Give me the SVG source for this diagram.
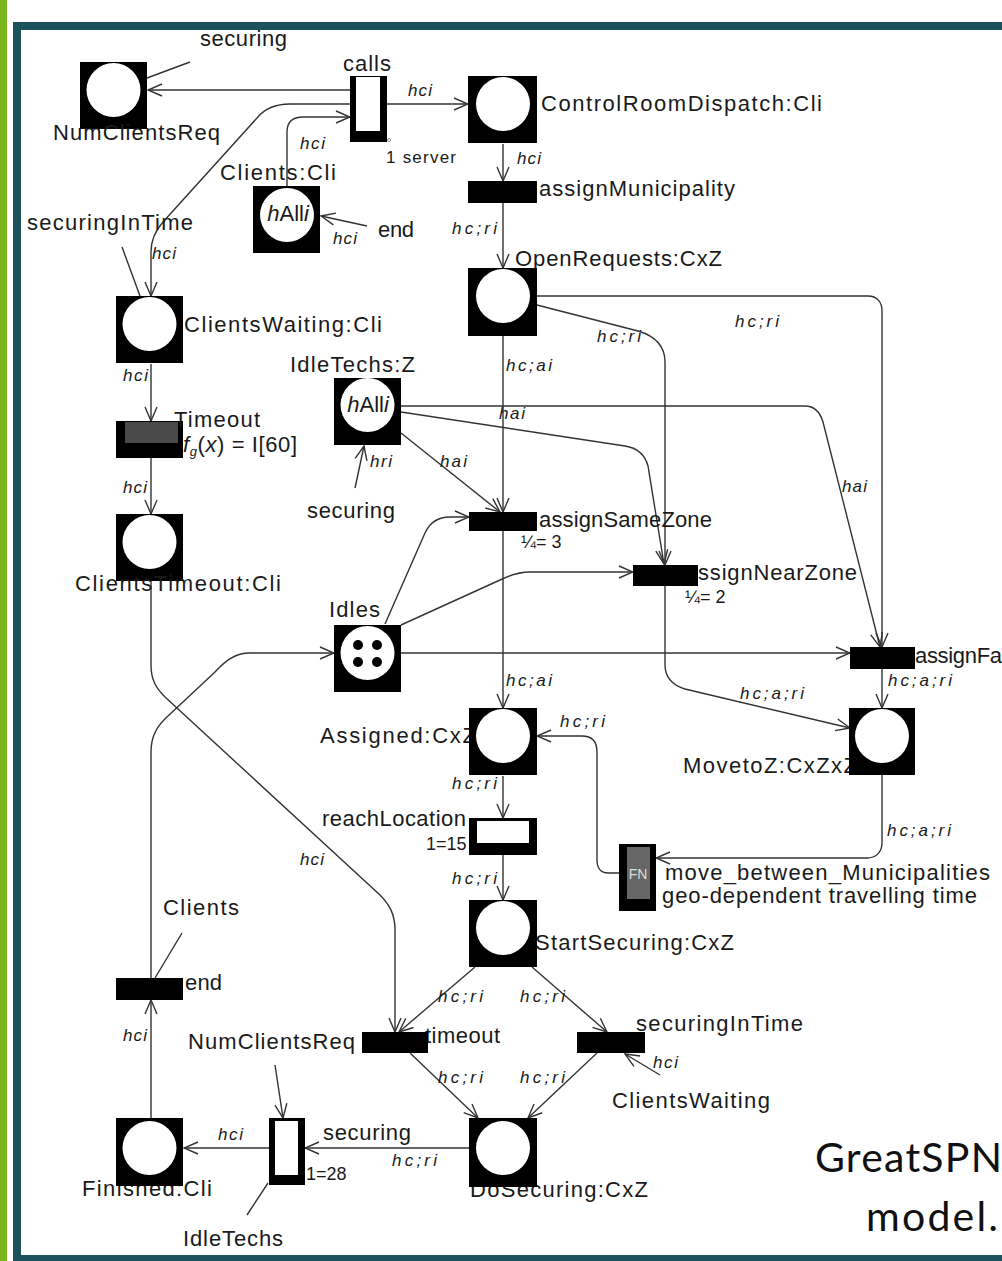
<svg xmlns="http://www.w3.org/2000/svg" width="1002" height="1261" viewBox="0 0 1002 1261">
<style>
.ln{fill:none;stroke:#333;stroke-width:1.4}
.pl{fill:#000}
.pc{fill:#fff}
.tr{fill:#000}
.t{font-family:"Liberation Sans",Arial,sans-serif;font-size:22px;fill:#1a1a1a}
.a{font-family:"Liberation Sans",Arial,sans-serif;font-size:17px;font-style:italic;fill:#1a1a1a}
.s{font-family:"Liberation Sans",Arial,sans-serif;font-size:17px;fill:#1a1a1a}
.n{font-family:"Liberation Sans",Arial,sans-serif;font-size:18px;fill:#1a1a1a}
.big{font-family:Lato,"Open Sans",sans-serif;font-size:41px;fill:#111}
</style>
<defs>
<marker id="ah" markerUnits="userSpaceOnUse" markerWidth="16" markerHeight="14" viewBox="0 0 16 14" refX="15" refY="7" orient="auto"><path d="M1,1 L15,7 L1,13" fill="none" stroke="#333" stroke-width="1.4"/></marker>
</defs>
<rect x="0" y="0" width="1002" height="1261" fill="#fff"/>
<rect x="0" y="0" width="7" height="1261" fill="#7ab51d"/>
<rect x="17" y="26" width="1000" height="1233" fill="#fff" stroke="#1b525c" stroke-width="8"/>

<g id="connectors">
<path class="ln" d="M350,90 L148,90" marker-end="url(#ah)"/>
<path class="ln" d="M387,104 L468,104" marker-end="url(#ah)"/>
<path class="ln" d="M287,186 L287,132 C287,122 293,117 303,117 L350,117" marker-end="url(#ah)"/>
<path class="ln" d="M350,104 L290,104 C275,104 265,108 257,118 L163,222 C155,231 151,240 151,252 L151,296" marker-end="url(#ah)"/>
<path class="ln" d="M190,62 L147,78"/>
<path class="ln" d="M122,247 L140,296"/>
<path class="ln" d="M367,226 L321,216" marker-end="url(#ah)"/>
<path class="ln" d="M503,144 L503,181" marker-end="url(#ah)"/>
<path class="ln" d="M503,203 L503,268" marker-end="url(#ah)"/>
<path class="ln" d="M151,364 L151,421" marker-end="url(#ah)"/>
<path class="ln" d="M151,458 L151,514" marker-end="url(#ah)"/>
<path class="ln" d="M503,336 L503,512" marker-end="url(#ah)"/>
<path class="ln" d="M537,305 L638,331 C655,336 665,345 665,362 L665,565" marker-end="url(#ah)"/>
<path class="ln" d="M537,296 L868,296 C877,296 882,302 882,311 L882,647" marker-end="url(#ah)"/>
<path class="ln" d="M355,488 L364,446" marker-end="url(#ah)"/>
<path class="ln" d="M401,433 L500,512" marker-end="url(#ah)"/>
<path class="ln" d="M401,412 L625,446 C638,448 645,455 648,466 L664,564" marker-end="url(#ah)"/>
<path class="ln" d="M401,406 L805,406 C815,406 820,412 823,422 L880,647" marker-end="url(#ah)"/>
<path class="ln" d="M385,624 L425,533 C430,522 438,517 450,517 L469,517" marker-end="url(#ah)"/>
<path class="ln" d="M401,625 L500,580 C510,575 518,572 530,572 L633,572" marker-end="url(#ah)"/>
<path class="ln" d="M401,653 L850,653" marker-end="url(#ah)"/>
<path class="ln" d="M503,531 L503,708" marker-end="url(#ah)"/>
<path class="ln" d="M882,669 L882,708" marker-end="url(#ah)"/>
<path class="ln" d="M665,586 L665,665 C665,678 672,685 685,689 L850,728" marker-end="url(#ah)"/>
<path class="ln" d="M882,775 L882,843 C882,852 876,858 867,858 L656,858" marker-end="url(#ah)"/>
<path class="ln" d="M619,873 L608,873 C601,873 597,868 597,860 L597,752 C597,742 592,736 582,736 L537,736" marker-end="url(#ah)"/>
<path class="ln" d="M503,776 L503,818" marker-end="url(#ah)"/>
<path class="ln" d="M503,855 L503,900" marker-end="url(#ah)"/>
<path class="ln" d="M151,581 L151,665 C151,680 156,688 165,697 L380,895 C390,905 395,915 395,930 L395,1032" marker-end="url(#ah)"/>
<path class="ln" d="M151,978 L151,752 C151,735 158,725 168,716 L215,672 C225,661 235,653 250,653 L334,653" marker-end="url(#ah)"/>
<path class="ln" d="M182,933 L155,978"/>
<path class="ln" d="M151,1118 L151,1000" marker-end="url(#ah)"/>
<path class="ln" d="M475,967 L399,1032" marker-end="url(#ah)"/>
<path class="ln" d="M532,967 L607,1032" marker-end="url(#ah)"/>
<path class="ln" d="M410,1053 L478,1118" marker-end="url(#ah)"/>
<path class="ln" d="M597,1053 L528,1118" marker-end="url(#ah)"/>
<path class="ln" d="M660,1075 L625,1054" marker-end="url(#ah)"/>
<path class="ln" d="M469,1148 L305,1148" marker-end="url(#ah)"/>
<path class="ln" d="M269,1148 L184,1148" marker-end="url(#ah)"/>
<path class="ln" d="M275,1065 L283,1118" marker-end="url(#ah)"/>
<path class="ln" d="M268,1183 L247,1215"/>
</g>

<g id="arc-labels">
<text class="a" x="408" y="96" textLength="24">hci</text>
<text class="a" x="300" y="149" textLength="25">hci</text>
<text class="a" x="517" y="164" textLength="24">hci</text>
<text class="a" x="333" y="244" textLength="24">hci</text>
<text class="a" x="452" y="234" textLength="45">hc;ri</text>
<text class="a" x="152" y="259" textLength="24">hci</text>
<text class="a" x="735" y="327" textLength="44">hc;ri</text>
<text class="a" x="597" y="342" textLength="44">hc;ri</text>
<text class="a" x="506" y="371" textLength="46">hc;ai</text>
<text class="a" x="123" y="381" textLength="25">hci</text>
<text class="a" x="499" y="419" textLength="26">hai</text>
<text class="a" x="370" y="467" textLength="22">hri</text>
<text class="a" x="440" y="467" textLength="27">hai</text>
<text class="a" x="842" y="492" textLength="25">hai</text>
<text class="a" x="123" y="493" textLength="24">hci</text>
<text class="a" x="506" y="686" textLength="46">hc;ai</text>
<text class="a" x="888" y="686" textLength="64">hc;a;ri</text>
<text class="a" x="740" y="699" textLength="64">hc;a;ri</text>
<text class="a" x="560" y="727" textLength="45">hc;ri</text>
<text class="a" x="452" y="789" textLength="45">hc;ri</text>
<text class="a" x="887" y="836" textLength="64">hc;a;ri</text>
<text class="a" x="300" y="865" textLength="24">hci</text>
<text class="a" x="452" y="884" textLength="45">hc;ri</text>
<text class="a" x="438" y="1002" textLength="45">hc;ri</text>
<text class="a" x="520" y="1002" textLength="45">hc;ri</text>
<text class="a" x="123" y="1041" textLength="24">hci</text>
<text class="a" x="653" y="1068" textLength="25">hci</text>
<text class="a" x="438" y="1083" textLength="45">hc;ri</text>
<text class="a" x="520" y="1083" textLength="45">hc;ri</text>
<text class="a" x="218" y="1140" textLength="25">hci</text>
<text class="a" x="392" y="1166" textLength="45">hc;ri</text>
</g>

<g id="stub-labels">
<text class="t" x="200" y="46" textLength="87">securing</text>
<text class="t" x="378" y="237" textLength="36">end</text>
<text class="t" x="27" y="230" textLength="166">securingInTime</text>
<text class="t" x="307" y="518" textLength="88">securing</text>
<text class="t" x="163" y="915" textLength="76">Clients</text>
<text class="t" x="188" y="1049" textLength="167">NumClientsReq</text>
<text class="t" x="612" y="1108" textLength="158">ClientsWaiting</text>
<text class="t" x="183" y="1246" textLength="100">IdleTechs</text>
</g>

<g id="p-NumClientsReq">
<rect class="pl" x="80" y="62" width="67" height="67"/><circle class="pc" cx="113.5" cy="90" r="27"/>
<text class="t" x="53" y="140" textLength="167">NumClientsReq</text>
</g>
<g id="t-calls">
<text class="t" x="343" y="71" textLength="48">calls</text>
<rect class="tr" x="350" y="76" width="37" height="66"/><rect fill="#fff" x="356" y="77" width="24" height="54"/>
<circle cx="389" cy="140" r="1.5" fill="none" stroke="#777" stroke-width="0.8"/>
<text class="s" x="386" y="163" textLength="70">1 server</text>
</g>
<g id="p-ControlRoomDispatch">
<rect class="pl" x="468" y="76" width="69" height="67"/><circle class="pc" cx="503" cy="104" r="27"/>
<text class="t" x="541" y="111" textLength="281">ControlRoomDispatch:Cli</text>
</g>
<g id="p-Clients">
<text class="t" x="220" y="180" textLength="116">Clients:Cli</text>
<rect class="pl" x="253" y="186" width="67" height="67"/><circle class="pc" cx="287" cy="215" r="27"/>
<text class="t" x="288" y="221" text-anchor="middle" font-size="20"><tspan font-style="italic">h</tspan>All<tspan font-style="italic">i</tspan></text>
</g>
<g id="t-assignMunicipality">
<rect class="tr" x="468" y="181" width="69" height="22"/>
<text class="t" x="539" y="196" textLength="196">assignMunicipality</text>
</g>
<g id="p-OpenRequests">
<text class="t" x="515" y="266" textLength="207">OpenRequests:CxZ</text>
<rect class="pl" x="468" y="268" width="69" height="68"/><circle class="pc" cx="503" cy="296" r="27"/>
</g>
<g id="p-ClientsWaiting">
<rect class="pl" x="116" y="296" width="67" height="67"/><circle class="pc" cx="149.5" cy="324" r="27"/>
<text class="t" x="184" y="332" textLength="198">ClientsWaiting:Cli</text>
</g>
<g id="p-IdleTechs">
<text class="t" x="290" y="372" textLength="125">IdleTechs:Z</text>
<rect class="pl" x="334" y="378" width="67" height="67"/><circle class="pc" cx="367.5" cy="405" r="27"/>
<text class="t" x="368" y="412" text-anchor="middle" font-size="20"><tspan font-style="italic">h</tspan>All<tspan font-style="italic">i</tspan></text>
</g>
<g id="t-Timeout">
<rect class="tr" x="116" y="421" width="67" height="37"/><rect fill="#4a4a4a" x="125" y="422" width="53" height="21"/>
<text class="t" x="174" y="427" textLength="86">Timeout</text>
<text class="t" x="183" y="452" font-size="20" textLength="114"><tspan font-style="italic">f</tspan><tspan font-style="italic" font-size="13" dy="4">g</tspan><tspan dy="-4">(</tspan><tspan font-style="italic">x</tspan>) = I[60]</text>
</g>
<g id="p-ClientsTimeout">
<rect class="pl" x="116" y="514" width="67" height="67"/><circle class="pc" cx="149.5" cy="542" r="27"/>
<text class="t" x="75" y="591" textLength="206">ClientsTimeout:Cli</text>
</g>
<g id="t-assignSameZone">
<text class="t" x="539" y="527" textLength="173">assignSameZone</text>
<rect class="tr" x="469" y="512" width="68" height="19"/>
<text class="n" x="521" y="548">¼= 3</text>
</g>
<g id="t-assignNearZone">
<text class="t" x="685" y="580" textLength="172">assignNearZone</text>
<rect class="tr" x="633" y="565" width="65" height="21"/>
<text class="n" x="685" y="603">¼= 2</text>
</g>
<g id="p-Idles">
<text class="t" x="329" y="617" textLength="51">Idles</text>
<rect class="pl" x="334" y="625" width="67" height="67"/><circle class="pc" cx="367.5" cy="653" r="27"/>
<circle cx="358" cy="645" r="5" fill="#000"/><circle cx="377" cy="645" r="5" fill="#000"/>
<circle cx="358" cy="662" r="5" fill="#000"/><circle cx="377" cy="662" r="5" fill="#000"/>
</g>
<g id="t-assignFar">
<rect class="tr" x="850" y="647" width="65" height="22"/>
<text class="t" x="915" y="663" textLength="87">assignFa</text>
</g>
<g id="p-Assigned">
<text class="t" x="320" y="743" textLength="156">Assigned:CxZ</text>
<rect class="pl" x="469" y="708" width="68" height="67"/><circle class="pc" cx="503" cy="736" r="27"/>
</g>
<g id="p-MovetoZ">
<text class="t" x="683" y="773" textLength="174">MovetoZ:CxZxZ</text>
<rect class="pl" x="849" y="708" width="66" height="67"/><circle class="pc" cx="882" cy="736" r="27"/>
</g>
<g id="t-reachLocation">
<text class="t" x="322" y="826" textLength="144">reachLocation</text>
<text class="n" x="426" y="850">1=15</text>
<rect class="tr" x="469" y="818" width="68" height="37"/><rect fill="#fff" x="477" y="821" width="52" height="22"/>
</g>
<g id="t-move_between_Municipalities">
<rect class="tr" x="619" y="844" width="37" height="67"/><rect fill="#666" x="627" y="847" width="23" height="52"/>
<text x="638" y="879" text-anchor="middle" font-family="Liberation Sans,Arial,sans-serif" font-size="14" fill="#ddd">FN</text>
<text class="t" x="665" y="880" textLength="325">move_between_Municipalities</text>
<text class="t" x="662" y="903" font-size="18" textLength="315">geo-dependent travelling time</text>
</g>
<g id="p-StartSecuring">
<text class="t" x="535" y="950" textLength="199">StartSecuring:CxZ</text>
<rect class="pl" x="469" y="900" width="68" height="67"/><circle class="pc" cx="503" cy="928" r="27"/>
</g>
<g id="t-end">
<rect class="tr" x="116" y="978" width="67" height="22"/>
<text class="t" x="185" y="990" textLength="37">end</text>
</g>
<g id="t-timeout">
<text class="t" x="425" y="1043" textLength="75">timeout</text>
<rect class="tr" x="362" y="1032" width="66" height="21"/>
</g>
<g id="t-securingInTime">
<text class="t" x="636" y="1031" textLength="167">securingInTime</text>
<rect class="tr" x="577" y="1032" width="68" height="21"/>
</g>
<g id="t-securing">
<text class="t" x="323" y="1140" textLength="88">securing</text>
<rect class="tr" x="269" y="1118" width="36" height="67"/><rect fill="#fff" x="275" y="1121" width="23" height="54"/>
<text class="n" x="306" y="1180">1=28</text>
</g>
<g id="p-Finished">
<text class="t" x="82" y="1196" textLength="130">Finished:Cli</text>
<rect class="pl" x="116" y="1118" width="67" height="68"/><circle class="pc" cx="149.5" cy="1148" r="27"/>
</g>
<g id="p-DoSecuring">
<text class="t" x="470" y="1197" textLength="178">DoSecuring:CxZ</text>
<rect class="pl" x="469" y="1118" width="68" height="69"/><circle class="pc" cx="503" cy="1148" r="27"/>
</g>

<text class="big" x="815" y="1172" textLength="187">GreatSPN</text>
<text class="big" x="866" y="1231" textLength="132">model.</text>
</svg>
